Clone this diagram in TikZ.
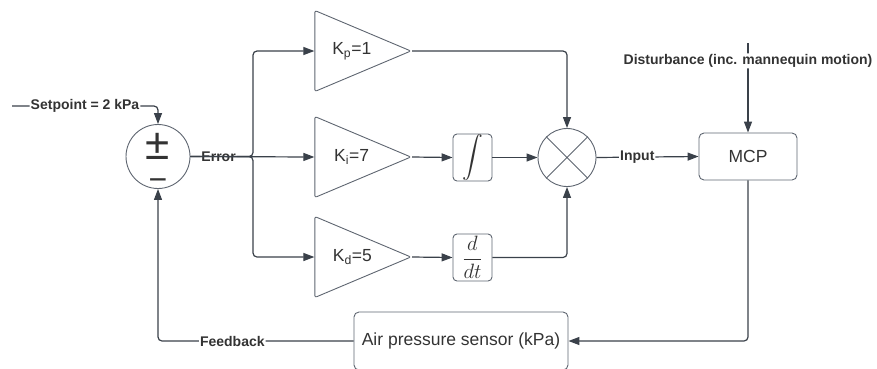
\documentclass[tikz,border=0pt]{standalone}
\usepackage{amsmath}
\usepackage{fontspec}
\setmainfont{Liberation Sans}
\usetikzlibrary{arrows.meta,shapes.geometric}
\definecolor{linea}{HTML}{3A414A}
\definecolor{borde}{HTML}{5E6570}
\definecolor{texto}{HTML}{333333}

\begin{document}
\begin{tikzpicture}[x=1pt, y=-1pt, >={Triangle[length=11pt,width=8pt]},
      c/.style={->, draw=linea, line width=1.2pt, rounded corners=4pt},
      b/.style={draw=borde, line width=0.9pt, rounded corners=4pt, text=texto,
                font=\fontsize{17.5}{20}\selectfont, inner sep=0pt},
      amp/.style={draw=borde, line width=0.9pt, shape=isosceles triangle,
                  isosceles triangle stretches, minimum width=81pt, minimum height=96pt,
                  inner sep=0pt, rounded corners=2pt, text=texto,
                  font=\fontsize{17.5}{20}\selectfont},
      rnd/.style={draw=borde, line width=0.9pt, circle, inner sep=0pt},
      lbl/.style={fill=white, text=texto, font=\bfseries\fontsize{14}{16}\selectfont,
                  inner sep=1pt}]
    \useasboundingbox (0,0) rectangle (877,368);
    % summing junction
    \node[rnd, minimum size=64pt] (sum) at (158,156.5) {};
    \node[text=texto, align=center, inner sep=0pt, font=\fontsize{32}{31}\selectfont] (sgn) at (158,162)
         {{\fontsize{44}{31}\selectfont ±}\\−};
    % gains
    \node[amp, anchor=apex] (kp) at (412,51) {\hspace*{10pt}K\textsubscript{p}=1};
    \node[amp, anchor=apex] (ki) at (412,157) {\hspace*{10pt}K\textsubscript{i}=7};
    \node[amp, anchor=apex] (kd) at (412,257) {\hspace*{10pt}K\textsubscript{d}=5};
    \node[b, minimum width=39pt, minimum height=47pt, font=\fontsize{21}{24}\selectfont] (int) at (472.5,157.5) {$\displaystyle\int$};
    \node[b, minimum width=39pt, minimum height=47pt, font=\fontsize{21}{24}\selectfont] (der) at (472.5,257.5) {$\dfrac{d}{dt}$};
    % product junction
    \node[rnd, minimum size=58pt] (mul) at (567,157.5) {};
    \draw[draw=borde, line width=0.9pt] (mul.north west) -- (mul.south east)
         (mul.north east) -- (mul.south west);
    % plant and sensor
    \node[b, rounded corners=5pt, minimum width=98pt, minimum height=47pt] (mcp) at (748,156.5) {MCP};
    \node[b, rounded corners=5pt, minimum width=214pt, minimum height=58pt] (sen) at (461,341) {Air pressure sensor (kPa)};
    \coordinate (sp) at (12,106);
    \coordinate (dist) at (748,43);
    % connectors
    \draw[c] (sp) -- node[lbl]{Setpoint = 2 kPa} (158,106) -- (sum.north);
    \draw[c] (sum.east) -- node[lbl, pos=0.45]{Error} (253,156.5) -- (253,51) -- (kp.west |- 0,51);
    \draw[c] (sum.east) -- (ki.west |- 0,157);
    \draw[c] (sum.east) -- (253,156.5) -- (253,257) -- (kd.west |- 0,257);
    \draw[c] (kp.apex) -- (567,51) -- (mul.north);
    \draw[c] (ki.apex) -- (int.west);
    \draw[c] (int.east) -- (mul.west);
    \draw[c] (kd.apex) -- (der.west);
    \draw[c] (der.east) -- (567,257.5) -- (mul.south);
    \draw[c] (mul.east) -- node[lbl, pos=0.4]{Input} (mcp.west);
    \draw[c] (dist) -- node[lbl, pos=0.2]{Disturbance (inc. mannequin motion)} (mcp.north);
    \draw[c] (mcp.south) -- (748,341) -- (sen.east);
    \draw[c] (sen.west) -- node[lbl, pos=0.62]{Feedback} (158,341) -- (sum.south);
\end{tikzpicture}
\end{document}
